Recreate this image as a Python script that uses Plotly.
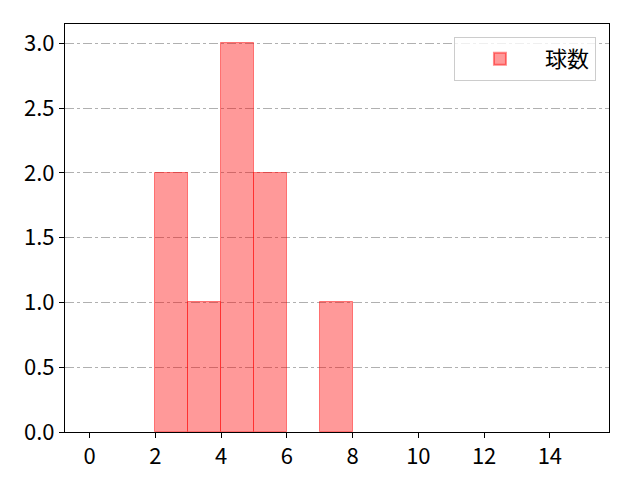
import plotly.graph_objects as go

bin_edges = list(range(0, 16))
counts = [0, 0, 2, 1, 3, 2, 0, 1, 0, 0, 0, 0, 0, 0, 0]
series_name = "球数"
x_ticks = [0, 2, 4, 6, 8, 10, 12, 14]
y_ticks = [0.0, 0.5, 1.0, 1.5, 2.0, 2.5, 3.0]

xs = [(bin_edges[i] + bin_edges[i + 1]) / 2 for i in range(len(counts)) if counts[i] > 0]
ys = [c for c in counts if c > 0]
ws = [bin_edges[i + 1] - bin_edges[i] for i in range(len(counts)) if counts[i] > 0]

fig = go.Figure()
fig.add_trace(go.Bar(
    x=xs, y=ys, width=ws, name=series_name,
    marker=dict(color="rgba(255,0,0,0.4)", line=dict(color="rgba(255,0,0,0.45)", width=1)),
    showlegend=True,
))

fig.update_layout(
    width=640, height=480,
    margin=dict(l=57, r=39, t=16, b=56),
    paper_bgcolor="white", plot_bgcolor="white",
    font=dict(family="Noto Sans CJK JP", size=22, color="black"),
    bargap=0,
    legend=dict(x=0.976, y=0.968, xanchor="right", yanchor="top",
                bgcolor="rgba(255,255,255,0.8)", bordercolor="#cccccc", borderwidth=1,
                font=dict(size=22), itemwidth=80, itemsizing="constant"),
)
fig.update_xaxes(
    range=[-0.75, 15.8], tickvals=x_ticks, ticktext=[str(t) for t in x_ticks],
    showgrid=False, zeroline=False,
    showline=True, linecolor="black", linewidth=1, mirror=True,
    ticks="outside", ticklen=5, tickcolor="black",
)
fig.update_yaxes(
    range=[0, 3.15], tickvals=y_ticks, ticktext=[f"{t:.1f}" for t in y_ticks],
    showgrid=True, gridcolor="#b0b0b0", griddash="dashdot", gridwidth=1,
    zeroline=False,
    showline=True, linecolor="black", linewidth=1, mirror=True,
    ticks="outside", ticklen=5, tickcolor="black",
)

fig.write_html("out.html")
